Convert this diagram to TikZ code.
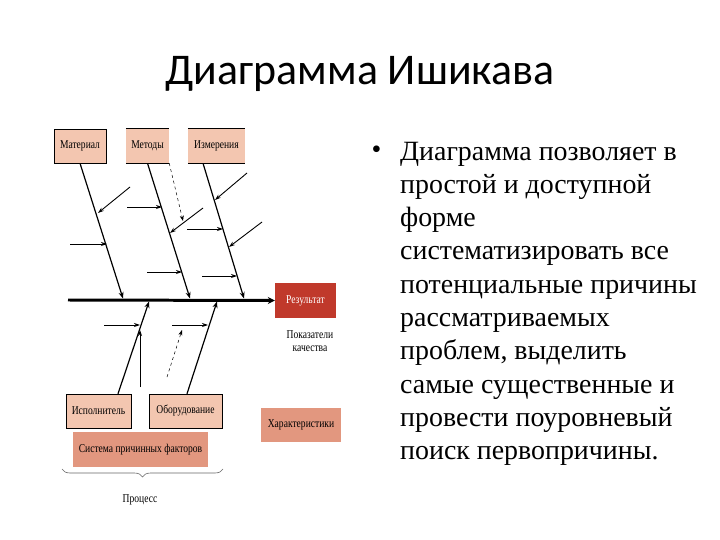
\documentclass[tikz,border=0pt]{standalone}
\usepackage{fontspec}
\setmainfont{Liberation Serif}
\newfontfamily\titlefont{Carlito}
\newfontfamily\labelfont[FakeStretch=0.8]{Liberation Serif}
\usetikzlibrary{arrows.meta,decorations.pathreplacing}
\definecolor{causefill}{HTML}{F3C6B0}
\definecolor{groupfill}{HTML}{E2977F}
\definecolor{effectfill}{HTML}{C0392B}

\begin{document}
\begin{tikzpicture}[x=1bp,y=-1bp,font=\labelfont\fontsize{12}{13.5}\selectfont,
  cause/.style={draw,line width=0.5pt,fill=causefill,inner sep=0pt,minimum height=34bp},
  group/.style={fill=groupfill,inner sep=0pt,minimum height=34bp},
  spine/.style={line width=1.2pt,-{Stealth[length=6.5pt,width=5pt]}},
  twig/.style={line width=0.9pt,-{Stealth[length=6pt,width=4pt]}},
  hint/.style={line width=0.5pt,dashed,-{Stealth[length=5.5pt,width=4pt]}}]
  \useasboundingbox (0,0) rectangle (720,540);
  \node[anchor=base,font=\titlefont\fontsize{44}{50}\selectfont] (title) at (360,85) {Диаграмма Ишикава};
  \node[anchor=base west,font=\rmfamily\fontsize{28}{33.4}\selectfont] (dot) at (368,159) {•};
  \node[anchor=base west,align=left,inner sep=0pt,font=\rmfamily\fontsize{28}{33.4}\selectfont] (txt) at (400,459.6)
    {Диаграмма позволяет в\\простой и доступной\\форме\\систематизировать все\\потенциальные причины\\рассматриваемых\\проблем, выделить\\самые существенные и\\провести поуровневый\\поиск первопричины.};

  \node[cause,minimum width=52bp] (mat) at (80,146) {Материал};
  \node[cause,draw=none,minimum width=43bp] (met) at (147.5,146) {Методы};
  \node[cause,draw=none,minimum width=57bp] (izm) at (216.5,146) {Измерения};
  \foreach \b in {met,izm}{\draw[line width=0.8pt] (\b.north west)--(\b.north east) (\b.south west)--(\b.south east);}
  \node[cause,minimum width=65bp] (isp) at (98.5,411) {Исполнитель};
  \node[cause,minimum width=73bp] (obo) at (185.5,411) {Оборудование};
  \node[group,minimum width=135bp,minimum height=35bp] (sys) at (140.5,449.5) {Система причинных факторов};
  \node[group,minimum width=80bp] (har) at (301,425) {Характеристики};
  \node[fill=effectfill,text=white,inner sep=0pt,minimum width=61bp,minimum height=35bp] (res) at (305.5,300.5) {Результат};
  \node[align=center] (qual) at (310,341) {Показатели\\качества};
  \node (proc) at (140,500) {Процесс};

  \coordinate (tail) at (68,300);
  \draw[line width=3pt,-{Stealth[length=7pt,width=7pt]}] (tail) -- (res.west);
  \coordinate (matEnd) at (123,298.5);
  \coordinate (metEnd) at (190,298.5);
  \coordinate (izmEnd) at (244,298.5);
  \coordinate (ispEnd) at (149,301.5);
  \coordinate (oboEnd) at (217,301.5);
  \draw[spine] (mat.south) -- (matEnd);
  \draw[spine] (met.south) -- (metEnd);
  \draw[spine] ([xshift=-13.5bp]izm.south) -- (izmEnd);
  \draw[spine] ([xshift=19.5bp]isp.north) -- (ispEnd);
  \draw[spine] ([xshift=1.5bp]obo.north) -- (oboEnd);

  \foreach \i/\sx/\sy/\ex/\ey in {1/130/187/98/213,2/70/244/107/244,3/127/207/162/207,
      4/203/208/170/233,5/147/272/182/272,6/247/173/215/200,7/187/229/223/229,
      8/262/222/229/247,9/202/276/237/276,10/104/325/140/325,11/140/387/140/330,
      12/172/325/208/325}{
    \coordinate (s\i) at (\sx,\sy);
    \coordinate (e\i) at (\ex,\ey);
    \draw[twig] (s\i) -- (e\i);
  }
  \coordinate (h1) at (183,221);
  \coordinate (h2a) at (167,377);
  \coordinate (h2b) at (182,330);
  \draw[hint] (met.south east) -- (h1);
  \draw[hint] (h2a) -- (h2b);

  \draw[black!60,line width=0.6pt,decorate,decoration={brace,mirror,amplitude=8bp}] (62,469) -- (223,469);
\end{tikzpicture}
\end{document}
